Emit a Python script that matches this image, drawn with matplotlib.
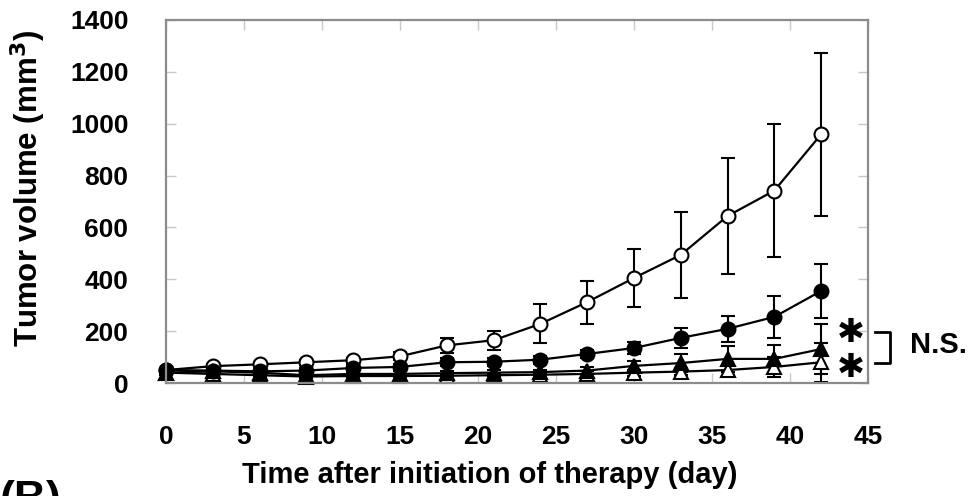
import matplotlib
matplotlib.use('Agg')
import matplotlib.pyplot as plt
import numpy as np

plt.rcParams['font.family'] = ['Liberation Sans', 'DejaVu Sans']
plt.rcParams['font.weight'] = 'bold'

days = [0, 3, 6, 9, 12, 15, 18, 21, 24, 27, 30, 33, 36, 39, 42]

# open circles
ctrl = [50, 65, 72, 80, 88, 103, 145, 165, 228, 312, 405, 494, 644, 742, 959]
ctrl_err = [8, 8, 8, 10, 10, 15, 28, 37, 75, 83, 112, 165, 224, 257, 315]
# filled circles
fc = [50, 48, 45, 48, 58, 62, 80, 82, 90, 112, 135, 174, 209, 255, 355]
fc_err = [8, 8, 8, 8, 10, 12, 15, 15, 15, 15, 23, 38, 50, 80, 104]
# filled triangles
ft = [40, 45, 40, 30, 35, 35, 38, 40, 42, 48, 66, 77, 93, 93, 131]
ft_err = [8, 8, 8, 8, 8, 10, 10, 10, 10, 12, 20, 35, 50, 55, 95]
# open triangles
ot = [40, 35, 30, 25, 27, 27, 28, 30, 32, 35, 40, 44, 50, 62, 80]
ot_err = [5, 5, 5, 5, 5, 5, 5, 5, 8, 10, 12, 15, 20, 40, 75]

fig = plt.figure(figsize=(9.74, 4.96), dpi=100)
ax = fig.add_axes([0.1704, 0.2278, 0.7207, 0.7319])

series = [
    (ctrl, ctrl_err, 'o', 'white'),
    (ot, ot_err, '^', 'white'),
    (ft, ft_err, '^', 'black'),
    (fc, fc_err, 'o', 'black'),
]
for vals, err, mk, face in series:
    ax.errorbar(days, vals, yerr=err, color='black', lw=1.6, marker=mk,
                markersize=10, markerfacecolor=face, markeredgecolor='black',
                markeredgewidth=1.5, capsize=5, capthick=1.5, elinewidth=1.5,
                clip_on=False)

ax.set_xlim(0, 45)
ax.set_ylim(0, 1400)
ax.set_xticks(np.arange(0, 46, 5))
ax.set_yticks(np.arange(0, 1401, 200))
ax.tick_params(direction='in', length=7, width=1, color='#c8c8c8',
               top=True, right=True, labelsize=19)
ax.tick_params(axis='x', pad=30)
ax.tick_params(axis='y', pad=27)
for s in ax.spines.values():
    s.set_color('#8c8c8c')
    s.set_linewidth(1.6)

ax.set_xlabel('Time after initiation of therapy (day)', fontsize=21,
              fontweight='bold', labelpad=6)
ax.xaxis.set_label_coords(0.4615, -0.215)
ax.set_ylabel('Tumor volume (mm$\\mathbf{^3}$)', fontsize=22.5,
              fontweight='bold')
ax.yaxis.set_label_coords(-0.168, 0.537)

# significance marks
ax.text(43.9, 195, '\u2731', fontsize=24, ha='center', va='center',
        family='DejaVu Sans', clip_on=False)
ax.text(43.9, 60, '\u2731', fontsize=24, ha='center', va='center',
        family='DejaVu Sans', clip_on=False)
ax.plot([45.45, 46.4, 46.4, 45.45], [197, 197, 77, 77], color='black',
        lw=2, clip_on=False)
ax.text(47.7, 147, 'N.S.', fontsize=21, fontweight='bold', ha='left',
        va='center')

fig.text(0.0, 1 - 480 / 496, '(B)', fontsize=32, fontweight='bold',
         ha='left', va='top')

fig.savefig('out.png', dpi=100)
